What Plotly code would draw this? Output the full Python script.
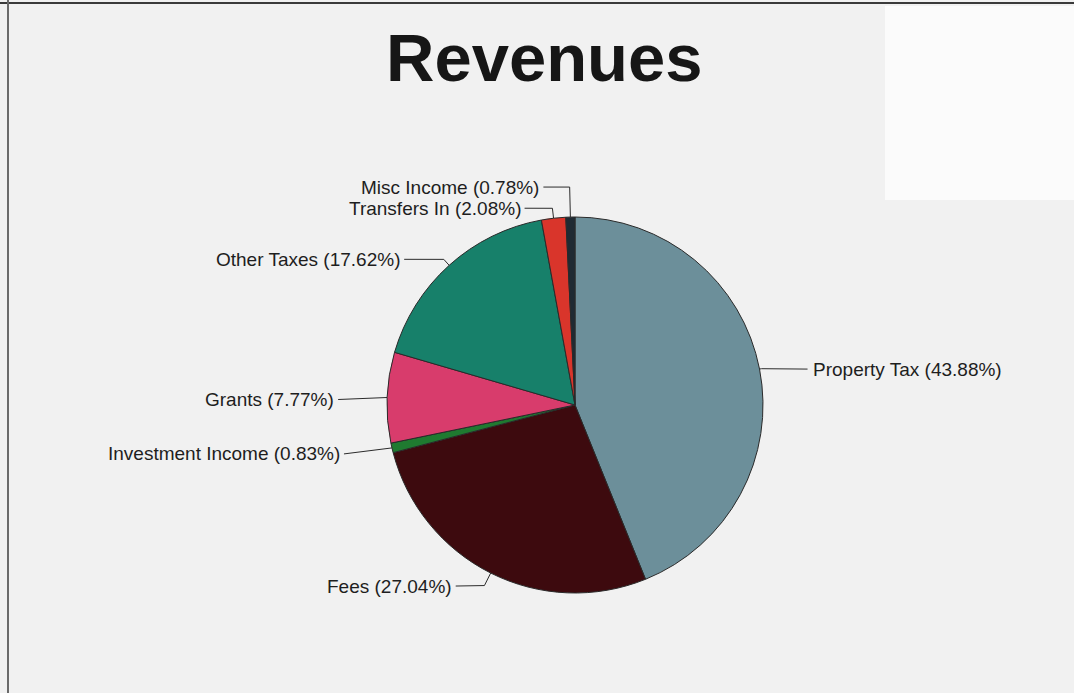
import math
import plotly.graph_objects as go

# Revenue categories and their shares (%)
categories = ["Property Tax", "Fees", "Investment Income", "Grants",
              "Other Taxes", "Transfers In", "Misc Income"]
shares = [43.88, 27.04, 0.83, 7.77, 17.62, 2.08, 0.78]
slice_colors = ["#6c8f9a", "#3d0a0e", "#1f7a30", "#d83c6c",
                "#17806a", "#d9352b", "#1f2a33"]

# Leader-line geometry per slice: radial extension, then offset to the label end
leader_ext = [2, 14, 0, 0, 8, 10, 30]
leader_dx = [48, -35, -48, -49, -45, -29, -27]
leader_dy = [0, 13, 6, 2, -6, -10, -30]

W, H = 1074, 693
CX, CY, R = 575, 405, 188  # pie centre and radius in pixels

fig = go.Figure()

fig.add_trace(go.Pie(
    labels=categories,
    values=shares,
    sort=False,
    direction="clockwise",
    rotation=0,
    marker=dict(colors=slice_colors, line=dict(color="#2a2a2a", width=1)),
    textinfo="none",
    hoverinfo="label+percent",
    showlegend=False,
    domain=dict(x=[(CX - R) / W, (CX + R) / W],
                y=[(H - (CY + R)) / H, (H - (CY - R)) / H]),
))

total = sum(shares)
cum = 0.0
annotations = []
for name, val, ext, dx, dy in zip(categories, shares, leader_ext, leader_dx, leader_dy):
    mid = (cum + val / 2) / total
    cum += val
    ang = 2 * math.pi * mid  # clockwise from 12 o'clock
    ux, uy = math.sin(ang), -math.cos(ang)
    ex, ey = CX + R * ux, CY + R * uy
    bx, by = ex + ext * ux, ey + ext * uy
    tx, ty = ex + dx, ey + dy
    fig.add_trace(go.Scatter(
        x=[ex, bx, tx], y=[ey, by, ty], mode="lines",
        line=dict(color="#2b2b2b", width=1),
        hoverinfo="skip", showlegend=False,
    ))
    right = dx > 0
    annotations.append(dict(
        x=tx + (3 if right else -2), y=ty, xref="x", yref="y",
        text=f"{name} ({val:.2f}%)", showarrow=False,
        xanchor="left" if right else "right", yanchor="middle",
        font=dict(family="Liberation Sans, Arial, sans-serif", size=19, color="#1e1e1e"),
    ))

annotations.append(dict(
    x=544, y=57, xref="x", yref="y", text="<b>Revenues</b>", showarrow=False,
    xanchor="center", yanchor="middle",
    font=dict(family="Liberation Sans, Arial, sans-serif", size=67, color="#161616"),
))

shapes = [
    # scanned page frame
    dict(type="line", xref="x", yref="y", x0=0, x1=W, y0=3, y1=3,
         line=dict(color="#3a3a3a", width=2)),
    dict(type="line", xref="x", yref="y", x0=8, x1=8, y0=0, y1=H,
         line=dict(color="#6a6a6a", width=2)),
    # lighter paper area on the right
    dict(type="rect", xref="x", yref="y", x0=885, x1=W, y0=6, y1=200,
         fillcolor="#fbfbfb", line=dict(width=0), layer="below"),
]

fig.update_layout(
    width=W, height=H,
    margin=dict(l=0, r=0, t=0, b=0),
    paper_bgcolor="#f1f1f1",
    plot_bgcolor="rgba(0,0,0,0)",
    xaxis=dict(range=[0, W], visible=False, fixedrange=True, domain=[0, 1]),
    yaxis=dict(range=[H, 0], visible=False, fixedrange=True, domain=[0, 1]),
    annotations=annotations,
    shapes=shapes,
)

fig.write_html("out.html")
